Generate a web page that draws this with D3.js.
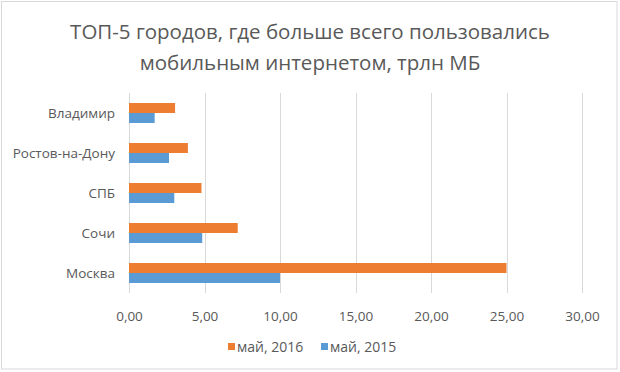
<!DOCTYPE html>
<html>
<head>
<meta charset="utf-8">
<script src="https://cdn.jsdelivr.net/npm/d3@7"></script>
<style>
  html, body { margin: 0; padding: 0; background: #fff; }
  svg { display: block; }
</style>
</head>
<body>
<div id="chart"></div>
<script>
// Data
const cities = ['Владимир', 'Ростов-на-Дону', 'СПБ', 'Сочи', 'Москва']
const may2016 = [3.05, 3.9, 4.8, 7.2, 25.0]
const may2015 = [1.7, 2.65, 3.0, 4.85, 10.0]
const seriesNames = ['май, 2016', 'май, 2015']
const xTicks = [0, 5, 10, 15, 20, 25, 30]
const titleLines = ['ТОП-5 городов, где больше всего пользовались', 'мобильным интернетом, трлн МБ']

const width = 620
const height = 372
const font = "'Open Sans', sans-serif"
const textColor = '#595959'
const colors = ['#ED7D31', '#5B9BD5']

const svg = d3.select('#chart')
  .append('svg')
  .attr('width', width)
  .attr('height', height)

// Chart border
svg.append('rect')
  .attr('x', 1.5)
  .attr('y', 1.5)
  .attr('width', 615.5)
  .attr('height', 367.5)
  .attr('fill', '#fff')
  .attr('stroke', '#d9d9d9')

// Title
svg.append('g')
  .selectAll('text')
  .data(titleLines)
  .join('text')
  .attr('x', 310)
  .attr('y', (d, i) => 38.5 + i * 31.5)
  .attr('text-anchor', 'middle')
  .attr('fill', textColor)
  .attr('font-family', font)
  .attr('font-size', '20.5px')
  .text(d => d)

const plot = { left: 129, right: 582, top: 93, bottom: 293 }

const x = d3.scaleLinear()
  .domain([0, 30])
  .range([plot.left, plot.right])

const y = d3.scaleBand()
  .domain(cities)
  .range([plot.top, plot.bottom])
  .paddingInner(0.5)
  .paddingOuter(0.25)

const ySub = d3.scaleBand()
  .domain(seriesNames)
  .range([0, y.bandwidth()])

// Gridlines
svg.append('g')
  .selectAll('line')
  .data(xTicks)
  .join('line')
  .attr('x1', d => Math.round(x(d)) + 0.5)
  .attr('x2', d => Math.round(x(d)) + 0.5)
  .attr('y1', plot.top)
  .attr('y2', plot.bottom)
  .attr('stroke', '#d9d9d9')
  .attr('stroke-width', 1)

// Bars
const rows = cities.map((c, i) => ({ city: c, values: [may2016[i], may2015[i]] }))

const group = svg.append('g')
  .selectAll('g')
  .data(rows)
  .join('g')
  .attr('transform', d => `translate(0,${y(d.city)})`)

group.selectAll('rect')
  .data(d => d.values.map((v, k) => ({ key: seriesNames[k], value: v, k })))
  .join('rect')
  .attr('x', x(0))
  .attr('y', d => ySub(d.key))
  .attr('width', d => x(d.value) - x(0))
  .attr('height', ySub.bandwidth())
  .attr('fill', d => colors[d.k])

// X axis labels
const xAxis = d3.axisBottom(x)
  .tickValues(xTicks)
  .tickSize(0)
  .tickPadding(0)
  .tickFormat(d => d3.format('.2f')(d).replace('.', ','))

const xg = svg.append('g')
  .attr('transform', `translate(0,${plot.bottom})`)
  .call(xAxis)
xg.select('.domain').remove()
xg.selectAll('text')
  .attr('dy', null)
  .attr('y', 28)
  .attr('fill', textColor)
  .attr('font-family', font)
  .attr('font-size', '13.5px')

// Y axis labels
const yAxis = d3.axisLeft(y).tickSize(0).tickPadding(0)
const yg = svg.append('g')
  .attr('transform', 'translate(115,0)')
  .call(yAxis)
yg.select('.domain').remove()
yg.selectAll('text')
  .attr('dy', '0.35em')
  .attr('fill', textColor)
  .attr('font-family', font)
  .attr('font-size', '13.5px')

// Legend
const legendItems = [
  { name: seriesNames[0], color: colors[0], x: 228 },
  { name: seriesNames[1], color: colors[1], x: 321 }
]
const lg = svg.append('g')
  .selectAll('g')
  .data(legendItems)
  .join('g')
  .attr('transform', d => `translate(${d.x},343)`)
lg.append('rect')
  .attr('width', 7)
  .attr('height', 7)
  .attr('fill', d => d.color)
lg.append('text')
  .attr('x', 9)
  .attr('y', 8.5)
  .attr('fill', textColor)
  .attr('font-family', font)
  .attr('font-size', '14px')
  .text(d => d.name)
</script>
</body>
</html>
